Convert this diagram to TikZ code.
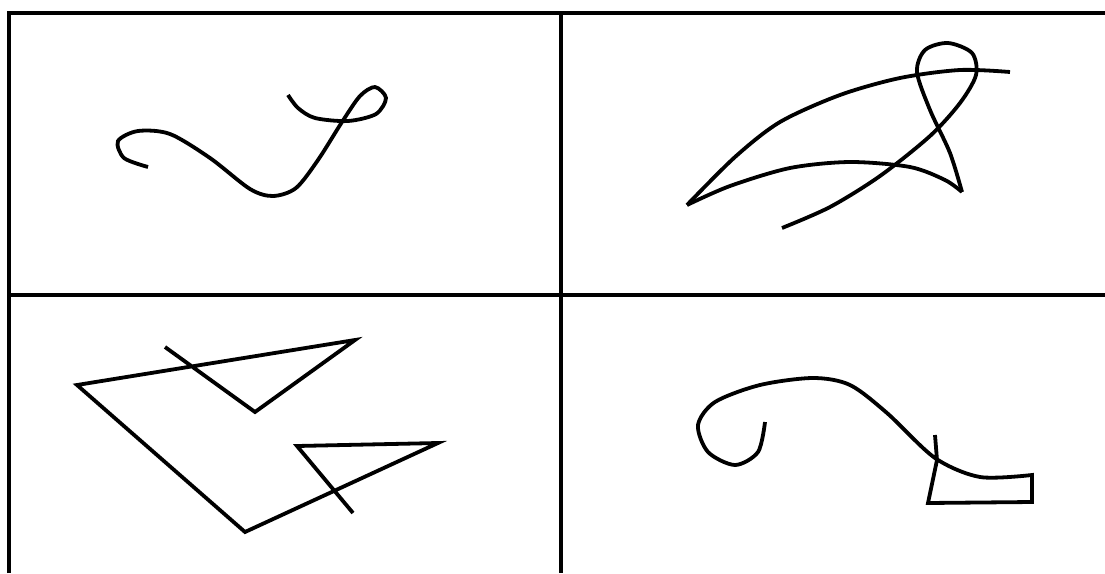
\documentclass[tikz,border=0pt]{standalone}
\usepackage{tikz}

\begin{document}
\begin{tikzpicture}[x=1pt,y=-1pt,line width=3.8pt]
  \useasboundingbox (0,0) rectangle (1105,573);
  % grid
  \draw[line width=4.5pt] (9,573) -- (9,13) -- (1105,13);
  \draw[line width=4.5pt] (9,295) -- (1105,295);
  \draw[line width=4.5pt] (561,13) -- (561,573);
  % top left: hook and loop
  \draw plot[smooth] coordinates {(148,167) (124,158) (118,141) (138,131) (170,134) (210,158) (250,189) (273,196) (296,188) (318,160) (342,122) (360,96) (375,87) (386,98) (376,114) (348,121) (315,118) (298,108) (288,95)};
  % top right: wing
  \draw plot[smooth] coordinates {(1010,72) (960,70) (900,78) (840,95) (780,122) (735,157) (687,205)};
  \draw plot[smooth] coordinates {(687,205) (730,186) (790,168) (850,162) (910,167) (945,180) (962,192)};
  \draw plot[smooth] coordinates {(962,192) (950,153) (930,110) (917,72) (925,50) (948,43) (972,53) (976,75) (960,103) (930,136) (880,176) (830,207) (782,228)};
  % bottom left: zigzag
  \draw (165,347) -- (255,412) -- (355,340) -- (77,385) -- (245,532) -- (438,443) -- (297,446) -- (353,513);
  % bottom right: curl and foot
  \draw plot[smooth] coordinates {(765,422) (758,452) (735,465) (708,452) (698,425) (715,402) (760,385) (813,378) (850,385) (887,413) (935,458) (980,477) (1032,475)}
    -- (1032,502) -- (928,503) -- (937,460) -- (935,435);
\end{tikzpicture}
\end{document}
